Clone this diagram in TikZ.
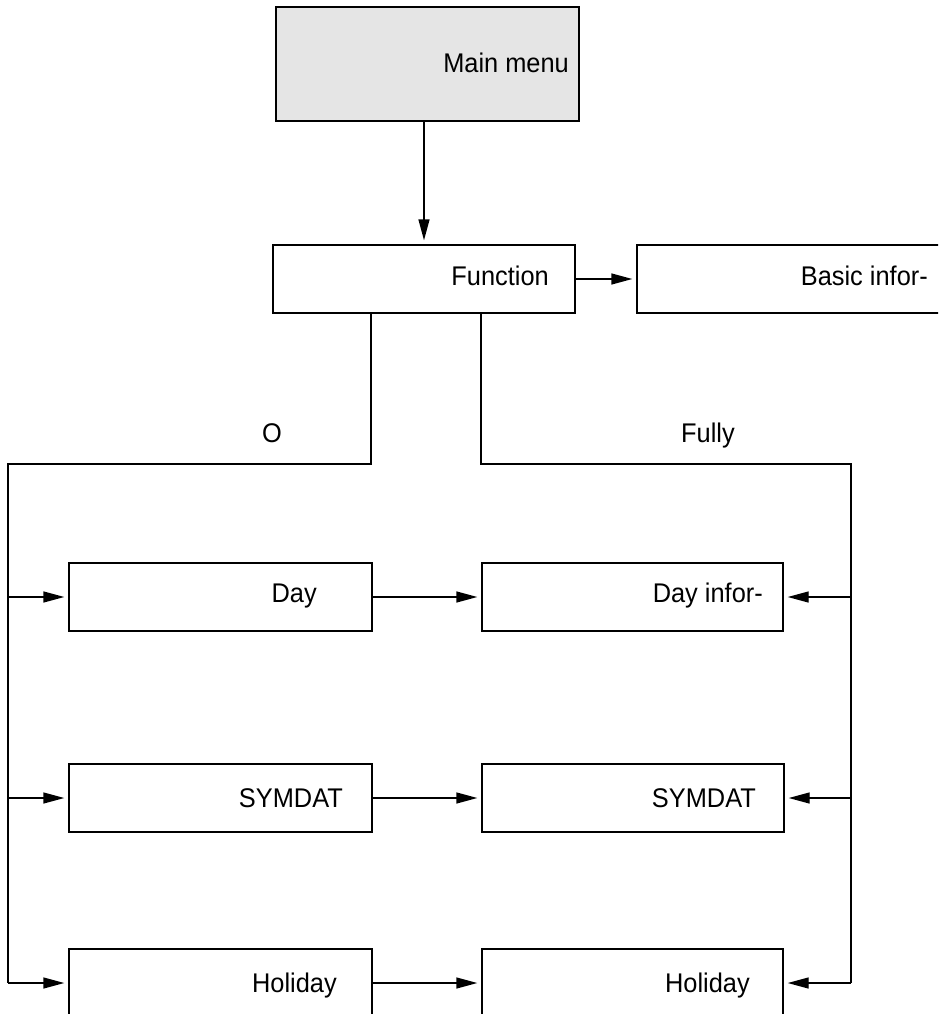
\documentclass[tikz,border=0pt]{standalone}
\usepackage{fontspec}
\setmainfont{Liberation Sans}[FakeStretch=0.94]
\usetikzlibrary{arrows.meta}
\definecolor{menugray}{RGB}{229,229,229}
\tikzset{
  box/.style={draw=black, line width=1.4pt, rectangle, inner sep=0pt, minimum height=68pt},
  txt/.style={inner sep=0pt, anchor=base east, font=\fontsize{27}{32}\selectfont},
  line/.style={draw=black, line width=1.4pt},
  arr/.style={line, -{Triangle[length=21pt,width=11pt]}, shorten >=4pt},
}
\begin{document}
\begin{tikzpicture}[x=1pt,y=-1pt]
\useasboundingbox (0,0) rectangle (938,1014);
\clip (0,0) rectangle (938,1014);
% boxes
\node[box, fill=menugray, minimum width=303pt, minimum height=114pt] (main) at (427.5,64) {};
\node[box, minimum width=302pt] (fn) at (424,279) {};
\node[box, minimum width=400pt] (basic) at (837,279) {};
\node[box, minimum width=303pt] (dayL) at (220.5,597) {};
\node[box, minimum width=301pt] (dayR) at (632.5,597) {};
\node[box, minimum width=303pt] (symL) at (220.5,798) {};
\node[box, minimum width=302pt] (symR) at (633,798) {};
\node[box, minimum width=303pt] (holL) at (220.5,983) {};
\node[box, minimum width=301pt] (holR) at (632.5,983) {};
% texts
\node[txt] (tmain) at (569,73) {Main menu};
\node[txt] (tfn) at (549,285) {Function};
\node[txt] (tbasic) at (928,285) {Basic infor-};
\node[txt] (tdayL) at (317,602) {Day};
\node[txt] (tdayR) at (763,602) {Day infor-};
\node[txt] (tsymL) at (343,807) {SYMDAT};
\node[txt] (tsymR) at (756,807) {SYMDAT};
\node[txt] (tholL) at (337,992) {Holiday};
\node[txt] (tholR) at (750,992) {Holiday};
\node[txt] (tO) at (282,442) {O};
\node[txt] (tFully) at (735,442) {Fully};
% junction coordinates
\coordinate (ll) at (8,464);
\coordinate (lb) at (8,983);
\coordinate (rr) at (851,464);
\coordinate (rb) at (851,983);
% connectors
\draw[arr] (main.south -| fn.north) -- (fn.north);
\draw[arr] (fn.east) -- (basic.west);
\draw[line] ([xshift=-53pt]fn.south) |- (ll) -- (lb);
\draw[line] ([xshift=57pt]fn.south) |- (rr) -- (rb);
\draw[arr] (dayL.west -| ll) -- (dayL.west);
\draw[arr] (symL.west -| ll) -- (symL.west);
\draw[arr] (lb) -- (holL.west);
\draw[arr] (dayL.east) -- (dayR.west);
\draw[arr] (symL.east) -- (symR.west);
\draw[arr] (holL.east) -- (holR.west);
\draw[arr] (dayR.east -| rr) -- (dayR.east);
\draw[arr] (symR.east -| rr) -- (symR.east);
\draw[arr] (rb) -- (holR.east);
\end{tikzpicture}
\end{document}
